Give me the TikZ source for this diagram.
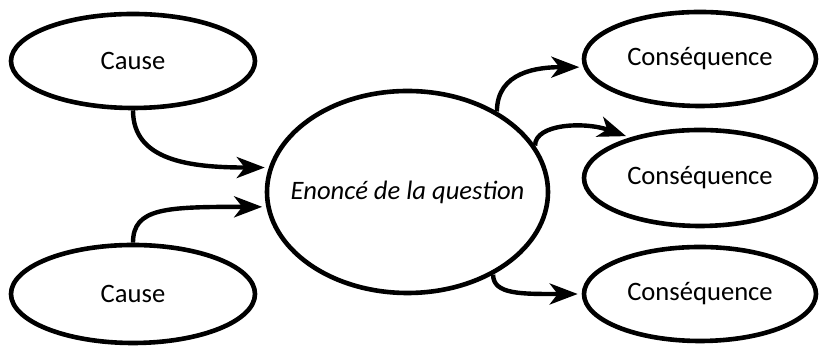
\documentclass[tikz,border=0pt]{standalone}
\usepackage{fontspec}
\setmainfont{Carlito}
\usetikzlibrary{shapes.geometric,arrows.meta}

\begin{document}
\begin{tikzpicture}[x=0.5pt,y=0.5pt,
		bulle/.style={draw=black,line width=2.3pt,ellipse,inner sep=0pt,font=\fontsize{13.3pt}{15pt}\selectfont},
		fleche/.style={line width=2.2pt,-{Stealth[length=14pt,width=10.5pt,inset=4pt]},shorten >=2pt}]
		\useasboundingbox (0,0) rectangle (820,346);
		\node [bulle,minimum width=122pt,minimum height=47pt] (cause1) at (133,285) {Cause};
		\node [bulle,minimum width=122pt,minimum height=49pt] (cause2) at (133,52) {Cause};
		\node [bulle,minimum width=140.5pt,minimum height=101pt] (enonce) at (407.5,154) {\makebox[0pt]{\itshape Enoncé de la question}};
		\node [bulle,minimum width=116pt,minimum height=47pt] (cons1) at (700,287) {Conséquence};
		\node [bulle,minimum width=116pt,minimum height=48pt] (cons2) at (700,168) {Conséquence};
		\node [bulle,minimum width=116pt,minimum height=47pt] (cons3) at (700,52) {Conséquence};
		\draw [fleche] (cause1.south) .. controls +(0,-50) and +(-80,0) .. (enonce.170);
		\draw [fleche] (cause2.north) .. controls +(0,35) and +(-100,0) .. (enonce.186);
		\draw [fleche] (enonce.42) .. controls +(0,40) and +(-45,0) .. (cons1.184);
		\draw [fleche] (enonce.20) .. controls +(0,22) and +(-45,16) .. (cons2.150);
		\draw [fleche] (enonce.-44) .. controls +(0,-20) and +(-60,0) .. (cons3.west);
	\end{tikzpicture}
\end{document}
